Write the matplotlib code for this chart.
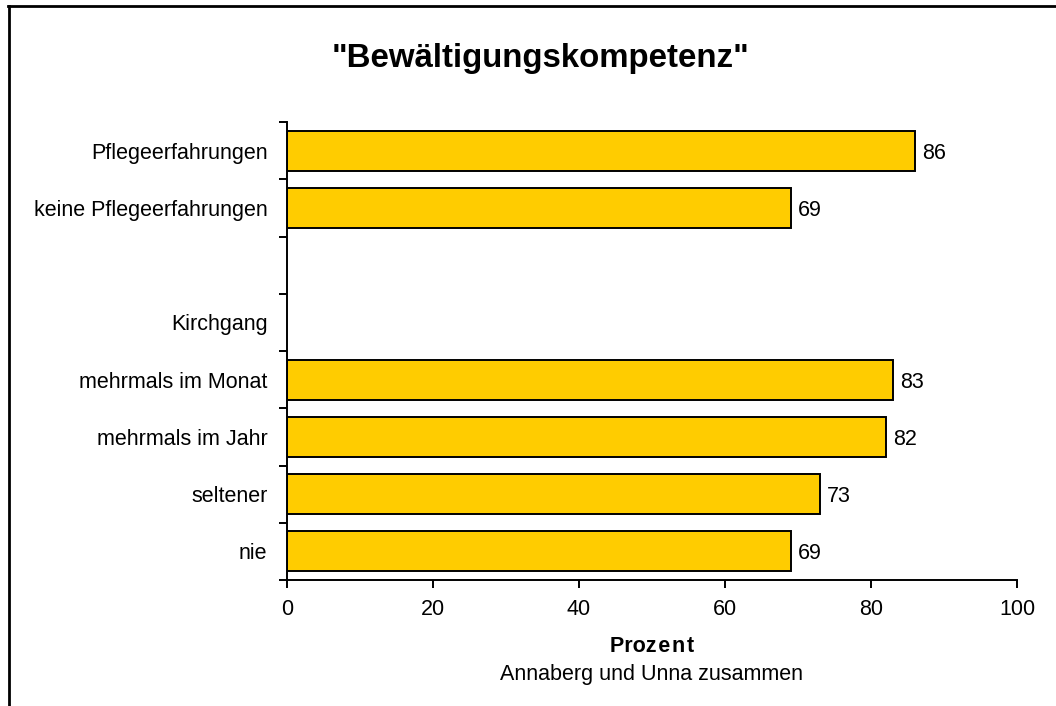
import matplotlib.pyplot as plt
from matplotlib.lines import Line2D
import numpy as np

plt.rcParams['font.family'] = ['Liberation Sans', 'DejaVu Sans']

# Data (top to bottom); None = no bar
categories = ['Pflegeerfahrungen', 'keine Pflegeerfahrungen', '', 'Kirchgang',
              'mehrmals im Monat', 'mehrmals im Jahr', 'seltener', 'nie']
values = [86, 69, None, None, 83, 82, 73, 69]

fs = 15.5

fig = plt.figure(figsize=(10.56, 7.06), dpi=100)
ax = fig.add_axes([287/1056, 1 - 580/706, 730/1056, 458/706])

y = np.arange(len(categories))
for yi, v in zip(y, values):
    if v is None:
        continue
    ax.barh(yi, v, height=0.70, color='#FFCC00', edgecolor='black', linewidth=1.4)
    ax.text(v + 1.0, yi, str(v), va='center_baseline', ha='left', fontsize=fs)

ax.set_ylim(len(categories) - 0.5, -0.5)
ax.set_xlim(0, 100)

ax.set_yticks(y)
ax.set_yticklabels(categories, fontsize=fs)
ax.set_yticks(np.arange(len(categories) + 1) - 0.5, minor=True)
ax.tick_params(axis='y', which='major', length=0, pad=14)
ax.tick_params(axis='y', which='minor', length=6, width=1.4, direction='out')

ax.set_xticks([0, 20, 40, 60, 80, 100])
ax.tick_params(axis='x', which='major', length=6, width=1.4, direction='out',
               labelsize=fs, pad=8)

for s in ['top', 'right']:
    ax.spines[s].set_visible(False)
for s in ['left', 'bottom']:
    ax.spines[s].set_linewidth(1.4)

# Axis title (slightly letter-spaced) and note
ax.text(0.5, -0.145, 'Proz\u200ae\u200an\u200at', transform=ax.transAxes,
        ha='center', va='center', fontsize=fs, fontweight='bold')
ax.text(0.5, -0.2074, 'Annaberg und Unna zusammen', transform=ax.transAxes,
        ha='center', va='center', fontsize=fs)

fig.text(540/1056, 1 - 59/706, '"Bewältigungskompetenz"', ha='center', va='center',
         fontsize=23.8, fontweight='bold')

# Partial frame (top and left edge)
fig.add_artist(Line2D([8/1056, 1], [1 - 6/706, 1 - 6/706], color='black', linewidth=2,
                      transform=fig.transFigure))
fig.add_artist(Line2D([9/1056, 9/1056], [0, 1 - 6/706], color='black', linewidth=2,
                      transform=fig.transFigure))

fig.savefig('out.png', dpi=100)
